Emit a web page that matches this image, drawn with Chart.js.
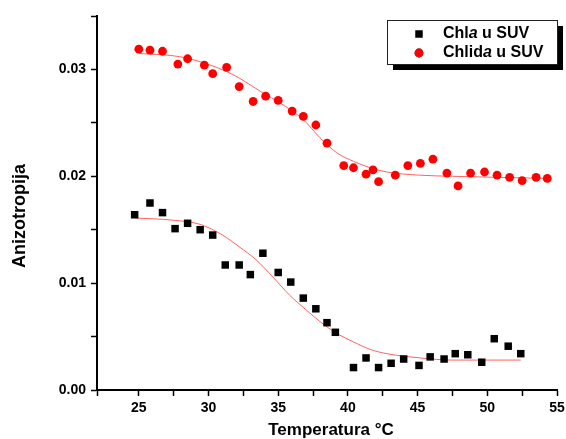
<!DOCTYPE html>
<html>
<head>
<meta charset="utf-8">
<script src="https://cdn.jsdelivr.net/npm/chart.js@4.4.1/dist/chart.umd.min.js"></script>
<style>
  html, body { margin: 0; padding: 0; background: #fff; }
  #wrap { width: 566px; height: 439px; }
</style>
</head>
<body>
<div id="wrap"><canvas id="anizChart" width="566" height="439"></canvas></div>
<script>
// Chl a u SUV (crni kvadrati)
const chlaTemp = [24.7, 25.8, 26.7, 27.6, 28.5, 29.4, 30.3, 31.2, 32.2, 33.0, 33.9, 35.0, 35.9, 36.8, 37.7, 38.5, 39.1,
                  40.4, 41.3, 42.2, 43.1, 44.0, 45.1, 45.9, 46.9, 47.7, 48.6, 49.6, 50.5, 51.5, 52.4];
const chlaAniz = [0.0164, 0.0175, 0.0166, 0.0151, 0.0156, 0.0150, 0.0145, 0.0117, 0.0117, 0.0108, 0.0128, 0.0110, 0.0101, 0.0086, 0.0076, 0.0063, 0.0054,
                  0.0021, 0.0030, 0.0021, 0.0025, 0.0029, 0.0023, 0.0031, 0.0029, 0.0034, 0.0033, 0.0026, 0.0048, 0.0041, 0.0034];

// Chlid a u SUV (crveni krugovi)
const chlidTemp = [25.0, 25.8, 26.7, 27.8, 28.5, 29.7, 30.3, 31.3, 32.2, 33.2, 34.1, 35.0, 36.0, 36.8, 37.7, 38.5, 39.7,
                   40.4, 41.3, 41.8, 42.2, 43.4, 44.3, 45.2, 46.1, 47.1, 47.9, 48.8, 49.8, 50.7, 51.6, 52.5, 53.5, 54.3];
const chlidAniz = [0.0319, 0.0318, 0.0317, 0.0305, 0.0310, 0.0304, 0.0296, 0.0302, 0.0284, 0.0270, 0.0275, 0.0271, 0.0261, 0.0256, 0.0248, 0.0231, 0.0210,
                   0.0208, 0.0202, 0.0206, 0.0195, 0.0201, 0.0210, 0.0212, 0.0216, 0.0203, 0.0191, 0.0203, 0.0204, 0.0201, 0.0199, 0.0196, 0.0199, 0.0198];

// fit krivulje (ocitano sa slike)
const fitChlaTemp = [24.7, 27.4, 29.4, 31.0, 32.2, 33.4, 34.6, 35.8, 37.0, 38.0, 39.2, 40.4, 41.6, 42.8, 45.2, 47.5, 52.4];
const fitChlaAniz = [0.0161, 0.0159, 0.0155, 0.0145, 0.0134, 0.0122, 0.0106, 0.0089, 0.0075, 0.0064, 0.0053, 0.0045, 0.0038, 0.0034, 0.0030, 0.0028, 0.0028];
const fitChlidTemp = [25.0, 27.9, 29.7, 31.3, 32.2, 33.9, 35.1, 36.8, 38.0, 39.2, 40.4, 41.6, 42.8, 45.2, 47.5, 54.5];
const fitChlidAniz = [0.0315, 0.0312, 0.0306, 0.0298, 0.0292, 0.0278, 0.0269, 0.0253, 0.0236, 0.0222, 0.0214, 0.0208, 0.0204, 0.0201, 0.0200, 0.0198];

// legenda: [prefiks, kurziv, sufiks]
const legendRows = [['Chl', 'a', ' u SUV'], ['Chlid', 'a', ' u SUV']];
const xTitle = 'Temperatura °C';
const yTitle = 'Anizotropija';

const toXY = (xs, ys) => xs.map((x, i) => ({ x: x, y: ys[i] }));
const FONT = '"Liberation Sans", Arial, sans-serif';
const fitColor = 'rgba(255, 70, 70, 0.85)';

// --- naslovi osi ---
const axisTitles = {
    id: 'axisTitles',
    afterDraw(chart) {
        const ctx = chart.ctx;
        ctx.save();
        ctx.fillStyle = '#000';
        ctx.textAlign = 'center';
        ctx.textBaseline = 'middle';
        ctx.font = 'bold 17px ' + FONT;
        ctx.fillText(xTitle, 331, 430);
        ctx.translate(20, 216);
        ctx.rotate(-Math.PI / 2);
        ctx.font = 'bold 18px ' + FONT;
        ctx.fillText(yTitle, 0, 0);
        ctx.restore();
    }
};

// --- custom legenda sa sjenom ---
const boxLegend = {
    id: 'boxLegend',
    afterDraw(chart) {
        const ctx = chart.ctx;
        const bx = 387, by = 20, bw = 170, bh = 44;
        ctx.save();
        ctx.fillStyle = '#000';
        ctx.fillRect(bx + 6, by + 6, bw, bh);
        ctx.fillStyle = '#fff';
        ctx.fillRect(bx, by, bw, bh);
        ctx.strokeStyle = '#222';
        ctx.lineWidth = 1;
        ctx.strokeRect(bx + 0.5, by + 0.5, bw, bh);

        legendRows.forEach((row, i) => {
            const yy = by + 14 + i * 19;
            const ds = chart.data.datasets[i];
            Chart.helpers.drawPoint(ctx, {
                pointStyle: ds.pointStyle, radius: ds.pointRadius, borderWidth: 0
            }, bx + 32, yy);
            ctx.fillStyle = ds.pointBackgroundColor;
            ctx.fill();

            let tx = bx + 56;
            ctx.fillStyle = '#000';
            ctx.textBaseline = 'middle';
            ctx.font = 'bold 16px ' + FONT;
            ctx.fillText(row[0], tx, yy);
            tx += ctx.measureText(row[0]).width;
            ctx.font = 'italic bold 16px ' + FONT;
            ctx.fillText(row[1], tx, yy);
            tx += ctx.measureText(row[1]).width;
            ctx.font = 'bold 16px ' + FONT;
            ctx.fillText(row[2], tx, yy);
        });
        ctx.restore();
    }
};

function initChart() {
    const ctx = document.getElementById('anizChart').getContext('2d');
    new Chart(ctx, {
        type: 'scatter',
        data: {
            datasets: [
                { label: 'Chla u SUV', data: toXY(chlaTemp, chlaAniz), pointStyle: 'rect', pointRadius: 5.3,
                  pointBackgroundColor: '#000', pointBorderWidth: 0, order: 0 },
                { label: 'Chlida u SUV', data: toXY(chlidTemp, chlidAniz), pointStyle: 'circle', pointRadius: 4.4,
                  pointBackgroundColor: '#ff0000', pointBorderWidth: 0, order: 0 },
                { label: 'fit1', data: toXY(fitChlaTemp, fitChlaAniz), showLine: true, pointRadius: 0,
                  borderColor: fitColor, borderWidth: 1, cubicInterpolationMode: 'monotone', order: 1 },
                { label: 'fit2', data: toXY(fitChlidTemp, fitChlidAniz), showLine: true, pointRadius: 0,
                  borderColor: fitColor, borderWidth: 1, cubicInterpolationMode: 'monotone', order: 1 }
            ]
        },
        options: {
            responsive: false,
            animation: false,
            layout: { padding: { top: 16, right: 9, left: 0, bottom: 0 } },
            plugins: { legend: { display: false }, tooltip: { enabled: false } },
            scales: {
                x: {
                    type: 'linear', min: 22, max: 55,
                    afterFit: s => { s.height = 49; s.paddingRight = 0; s.paddingLeft = 0; },
                    border: { color: '#000', width: 2 },
                    grid: { drawOnChartArea: false, tickLength: 6, tickColor: '#000', tickWidth: 1.5 },
                    ticks: {
                        stepSize: 2.5, color: '#000', padding: 4,
                        font: { family: FONT, size: 14, weight: 'bold' },
                        callback: v => (v % 5 === 0 ? String(v) : '')
                    }
                },
                y: {
                    type: 'linear', min: 0, max: 0.035,
                    afterFit: s => { s.width = 97; s.paddingTop = 0; s.paddingBottom = 0; },
                    border: { color: '#000', width: 2 },
                    grid: { drawOnChartArea: false, tickLength: 6, tickColor: '#000', tickWidth: 1.5 },
                    ticks: {
                        stepSize: 0.005, color: '#000', padding: 5,
                        font: { family: FONT, size: 14, weight: 'bold' },
                        callback: v => (Math.abs(v * 100 - Math.round(v * 100)) < 1e-6 ? v.toFixed(2) : '')
                    }
                }
            }
        },
        plugins: [boxLegend, axisTitles]
    });
}

document.addEventListener('DOMContentLoaded', initChart);
</script>
</body>
</html>
